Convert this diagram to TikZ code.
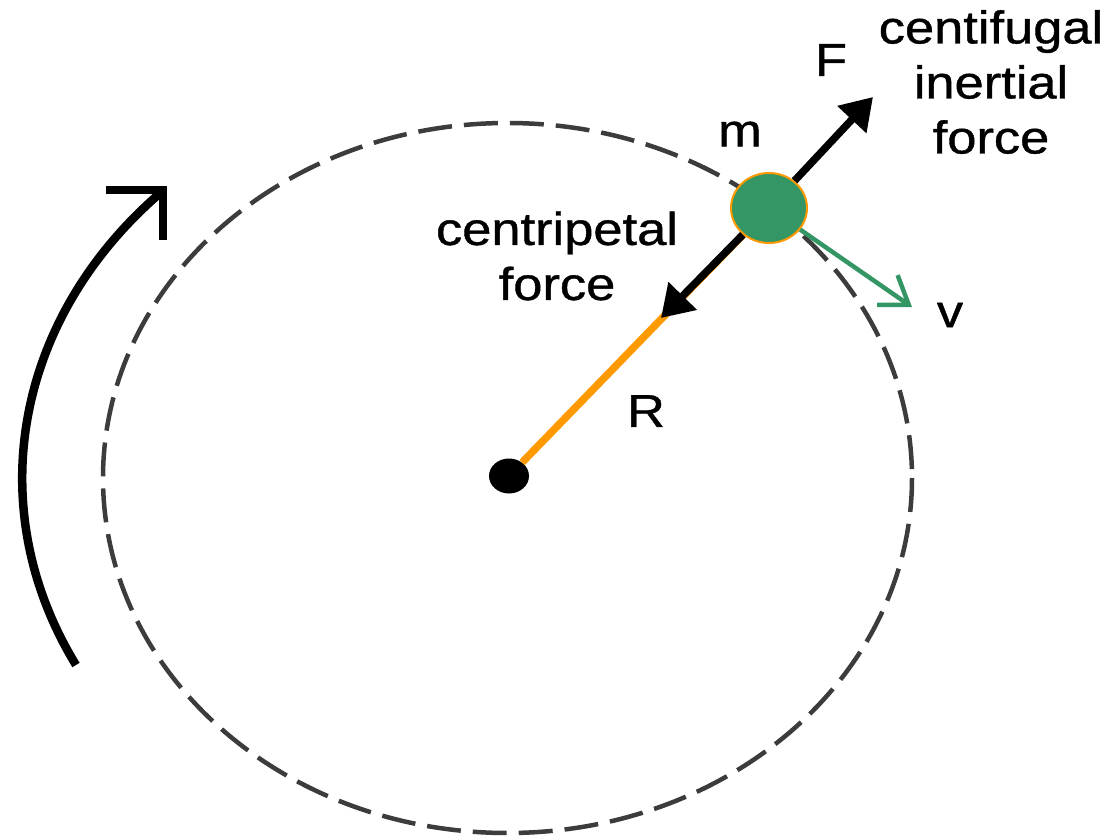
\documentclass[tikz,border=0pt]{standalone}
\usepackage{fontspec}
\setmainfont{Liberation Sans}
\newfontfamily\lblfont{Liberation Sans}[FakeBold=0.8]
\usetikzlibrary{arrows.meta,shapes.geometric}
\definecolor{massgreen}{RGB}{51,150,100}
\definecolor{radorange}{RGB}{255,153,0}
\definecolor{orbitgray}{RGB}{60,60,60}
\newcommand{\wtxt}[1]{\scalebox{1.14}[1]{#1}}
\begin{document}
\begin{tikzpicture}[x=1pt,y=-1pt,
  lbl/.style={inner sep=0pt, font=\lblfont\fontsize{46}{55}\selectfont, align=center},
  orbit/.style={draw=orbitgray, line width=4.5pt, dash pattern=on 34pt off 12pt},
  force/.style={line width=7.5pt, -{Triangle[length=31pt,width=38pt]}},
  vel/.style={draw=massgreen, line width=4.5pt, -{Straight Barb[length=26pt,width=36pt]}},
  radline/.style={draw=radorange, line width=7.5pt},
  rot/.style={line width=8.5pt},
]
\useasboundingbox (0,0) rectangle (1114,837);
% orbit
\draw[orbit] (507.5,478) ellipse [x radius=404.5, y radius=355];
% nodes
\node[draw=radorange, line width=2pt, fill=massgreen, ellipse, minimum width=76pt, minimum height=70pt, inner sep=0pt] (M) at (769,208) {};
\node[fill=black, ellipse, minimum width=40pt, minimum height=35pt, inner sep=0pt] (O) at (509,476) {};
% radius
\draw[radline] (O) -- (M);
% forces
\coordinate (Fout) at (873,97);
\coordinate (Fin) at (661,318);
\draw[force] (M) -- (Fout);
\draw[force] (M) -- (Fin);
% velocity
\coordinate (Vtip) at (912,307);
\draw[vel] (M) -- (Vtip);
% rotation arrow
\coordinate (rotStart) at (76,665);
\coordinate (rotTip) at (163,190);
\draw[rot] (rotStart) arc[start angle=152.9, end angle=224.6, x radius=490, y radius=410];
\draw[rot, line join=miter] ([xshift=-57pt]rotTip) -- (rotTip) -- ([yshift=-50pt]rotTip);
% labels
\node[lbl] (F) at (831,60) {\wtxt{F}};
\node[lbl] (cf) at (991,82) {\wtxt{centifugal}\\\wtxt{inertial}\\\wtxt{force}};
\node[lbl] (m) at (740,134) {\wtxt{m}};
\node[lbl] (cp) at (557,256) {\wtxt{centripetal}\\\wtxt{force}};
\node[lbl] (v) at (950,315) {\wtxt{v}};
\node[lbl] (R) at (646,411) {\wtxt{R}};
\end{tikzpicture}
\end{document}
